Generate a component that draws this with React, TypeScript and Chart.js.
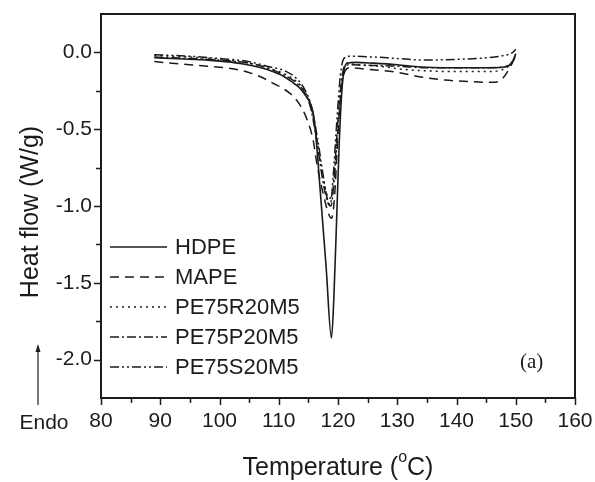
import React, { useEffect, useRef } from "react";
import { Chart, registerables } from "chart.js";

Chart.register(...registerables);

// ---------- data (temperature °C, heat flow W/g) ----------
const seriesNames = ["HDPE", "MAPE", "PE75R20M5", "PE75P20M5", "PE75S20M5"];

const hdpeT = [89, 92, 95, 98, 101, 104, 107, 109, 111, 112.5, 113.5, 114.5, 115.3, 116, 117, 118, 118.9, 119.3, 119.8, 120.2, 120.6, 121, 121.5, 123, 126, 130, 134, 138, 142, 146, 148, 149.3, 150];
const hdpeHF = [-0.035, -0.04, -0.045, -0.05, -0.06, -0.075, -0.1, -0.125, -0.16, -0.2, -0.23, -0.28, -0.33, -0.44, -0.9, -1.4, -1.86, -1.6, -1.05, -0.6, -0.28, -0.12, -0.07, -0.065, -0.07, -0.08, -0.095, -0.1, -0.1, -0.1, -0.095, -0.07, -0.01];

const mapeT = [89, 92, 95, 98, 101, 104, 107, 109, 110.5, 112, 113, 114, 114.8, 115.8, 116.5, 117.5, 118.4, 118.9, 119.4, 119.9, 120.4, 121, 122, 125, 130, 134, 138, 142, 146, 147.5, 149, 150];
const mapeHF = [-0.06, -0.07, -0.08, -0.09, -0.1, -0.12, -0.16, -0.2, -0.23, -0.27, -0.31, -0.37, -0.44, -0.57, -0.74, -0.92, -1.05, -1.08, -0.95, -0.6, -0.3, -0.14, -0.1, -0.11, -0.13, -0.16, -0.18, -0.19, -0.195, -0.18, -0.1, -0.02];

const r20T = [89, 95, 100, 105, 108, 111, 113, 114.5, 115.5, 116.5, 117.5, 118.5, 119, 119.6, 120.2, 120.8, 121.3, 123, 127, 131, 135, 140, 145, 147.5, 149, 150];
const r20HF = [-0.02, -0.03, -0.045, -0.07, -0.1, -0.14, -0.19, -0.26, -0.36, -0.58, -0.82, -0.95, -0.93, -0.7, -0.4, -0.15, -0.07, -0.08, -0.09, -0.11, -0.12, -0.125, -0.125, -0.115, -0.08, -0.02];

const p20T = [89, 95, 100, 105, 108, 111, 113, 114.5, 115.5, 116.5, 117.5, 118.3, 118.8, 119.3, 119.8, 120.4, 121, 122, 126, 130, 135, 140, 145, 148, 149.5, 150];
const p20HF = [-0.03, -0.04, -0.05, -0.07, -0.1, -0.15, -0.2, -0.27, -0.38, -0.6, -0.85, -0.98, -1.0, -0.85, -0.55, -0.25, -0.1, -0.08, -0.085, -0.09, -0.1, -0.1, -0.1, -0.095, -0.06, -0.01];

const s20T = [89, 95, 100, 105, 108, 111, 113, 114.5, 115.5, 116.5, 117.5, 118.3, 118.7, 119.2, 119.8, 120.4, 121, 122, 126, 130, 135, 140, 145, 148, 149.5, 150];
const s20HF = [-0.015, -0.025, -0.04, -0.06, -0.09, -0.12, -0.17, -0.25, -0.35, -0.55, -0.8, -0.97, -0.99, -0.8, -0.45, -0.15, -0.04, -0.025, -0.03, -0.04, -0.05, -0.045, -0.035, -0.02, 0.0, 0.02];

const xTickValues = [80, 90, 100, 110, 120, 130, 140, 150, 160];
const yTickValues = [0.0, -0.5, -1.0, -1.5, -2.0];
const xMin = 80, xMax = 160, yMin = -2.25, yMax = 0.25;

const dashes: number[][] = [[], [9, 6], [2, 4], [9, 3, 2, 3], [9, 3, 2, 3, 2, 3]];

const FONT = "'Liberation Sans', Arial, Helvetica, sans-serif";
const INK = "#1b1b1b";

function pts(t: number[], h: number[]) {
  return t.map((x, i) => ({ x, y: h[i] }));
}

const decorPlugin = {
  id: "decor",
  afterDraw(chart: any) {
    const ctx = chart.ctx as CanvasRenderingContext2D;
    const { left, right, top, bottom } = chart.chartArea;
    const xs = chart.scales.x;
    const ys = chart.scales.y;
    ctx.save();
    ctx.strokeStyle = INK;
    ctx.fillStyle = INK;
    // frame
    ctx.lineWidth = 2;
    ctx.strokeRect(left, top, right - left, bottom - top);
    // x ticks
    ctx.lineWidth = 1.5;
    for (let v = xMin; v <= xMax; v += 5) {
      const px = Math.round(xs.getPixelForValue(v)) + 0.5;
      const major = v % 10 === 0;
      ctx.beginPath();
      ctx.moveTo(px, bottom);
      ctx.lineTo(px, bottom + (major ? 7 : 5));
      ctx.stroke();
    }
    // y ticks
    for (let v = 0.0; v >= -2.0001; v -= 0.25) {
      const py = Math.round(ys.getPixelForValue(v)) + 0.5;
      const major = Math.abs(v * 2 - Math.round(v * 2)) < 1e-6;
      ctx.beginPath();
      ctx.moveTo(left, py);
      ctx.lineTo(left - (major ? 7 : 5), py);
      ctx.stroke();
    }
    // legend
    const ds = chart.data.datasets;
    ctx.font = `22px ${FONT}`;
    ctx.textBaseline = "middle";
    ctx.textAlign = "left";
    for (let i = 0; i < ds.length; i++) {
      const y = 247 + i * 30;
      ctx.save();
      ctx.lineWidth = ds[i].borderWidth;
      ctx.setLineDash(ds[i].borderDash || []);
      ctx.beginPath();
      ctx.moveTo(110, y);
      ctx.lineTo(167, y);
      ctx.stroke();
      ctx.restore();
      ctx.fillText(ds[i].label, 175, y + 1);
    }
    // (a)
    ctx.font = `21px 'Liberation Serif', 'Times New Roman', serif`;
    ctx.fillText("(a)", 520, 362);
    // x axis title with superscript o
    const tStr = "Temperature (";
    const cStr = "C)";
    ctx.font = `25px ${FONT}`;
    const wT = ctx.measureText(tStr).width;
    const wC = ctx.measureText(cStr).width;
    ctx.font = `16px ${FONT}`;
    const wO = ctx.measureText("o").width;
    const total = wT + wO + wC;
    const cx = (left + right) / 2;
    const x0 = cx - total / 2;
    const ty = 468;
    ctx.textAlign = "left";
    ctx.font = `25px ${FONT}`;
    ctx.fillText(tStr, x0, ty);
    ctx.font = `16px ${FONT}`;
    ctx.fillText("o", x0 + wT, ty - 10);
    ctx.font = `25px ${FONT}`;
    ctx.fillText(cStr, x0 + wT + wO, ty);
    // y title
    ctx.save();
    ctx.translate(31, 212);
    ctx.rotate(-Math.PI / 2);
    ctx.textAlign = "center";
    ctx.fillText("Heat flow (W/g)", 0, 0);
    ctx.restore();
    // Endo arrow
    ctx.lineWidth = 1.2;
    ctx.beginPath();
    ctx.moveTo(38, 405);
    ctx.lineTo(38, 348);
    ctx.stroke();
    ctx.beginPath();
    ctx.moveTo(38, 344);
    ctx.lineTo(35.5, 352);
    ctx.lineTo(40.5, 352);
    ctx.closePath();
    ctx.fill();
    ctx.font = `21px ${FONT}`;
    ctx.textAlign = "center";
    ctx.fillText("Endo", 44, 423);
    ctx.restore();
  },
};

export default function App() {
  const ref = useRef<HTMLCanvasElement>(null);
  useEffect(() => {
    if (!ref.current) return;
    const lists = [
      pts(hdpeT, hdpeHF),
      pts(mapeT, mapeHF),
      pts(r20T, r20HF),
      pts(p20T, p20HF),
      pts(s20T, s20HF),
    ];
    const chart = new Chart(ref.current, {
      type: "line",
      data: {
        datasets: lists.map((d, i) => ({
          label: seriesNames[i],
          data: d,
          borderColor: INK,
          backgroundColor: INK,
          borderWidth: i === 0 ? 1.6 : 1.5,
          borderDash: dashes[i],
          pointRadius: 0,
          fill: false,
          cubicInterpolationMode: "monotone" as const,
        })),
      },
      options: {
        animation: false,
        responsive: false,
        devicePixelRatio: 1,
        layout: { padding: { left: 0, top: 14, right: 20, bottom: 0 } },
        plugins: { legend: { display: false }, tooltip: { enabled: false } },
        scales: {
          x: {
            type: "linear",
            min: xMin,
            max: xMax,
            grid: { display: false, drawTicks: false },
            border: { display: false },
            afterBuildTicks: (s: any) => {
              s.ticks = xTickValues.map((v) => ({ value: v }));
            },
            afterFit: (s: any) => {
              s.height = 84;
              s.paddingLeft = 0;
              s.paddingRight = 0;
            },
            ticks: {
              color: INK,
              font: { family: FONT, size: 21 },
              padding: 11,
              maxRotation: 0,
              autoSkip: false,
              callback: (v: any) => String(v),
            },
          },
          y: {
            type: "linear",
            min: yMin,
            max: yMax,
            grid: { display: false, drawTicks: false },
            border: { display: false },
            afterBuildTicks: (s: any) => {
              s.ticks = yTickValues.map((v) => ({ value: v }));
            },
            afterFit: (s: any) => {
              s.width = 101;
              s.paddingTop = 0;
              s.paddingBottom = 0;
            },
            ticks: {
              color: INK,
              font: { family: FONT, size: 21 },
              padding: 9,
              autoSkip: false,
              callback: (v: any) => Number(v).toFixed(1),
            },
          },
        },
      },
      plugins: [decorPlugin],
    });
    return () => chart.destroy();
  }, []);
  return (
    <div style={{ position: "fixed", left: 0, top: 0, width: 595, height: 482, background: "#fff" }}>
      <canvas ref={ref} width={595} height={482} />
    </div>
  );
}
